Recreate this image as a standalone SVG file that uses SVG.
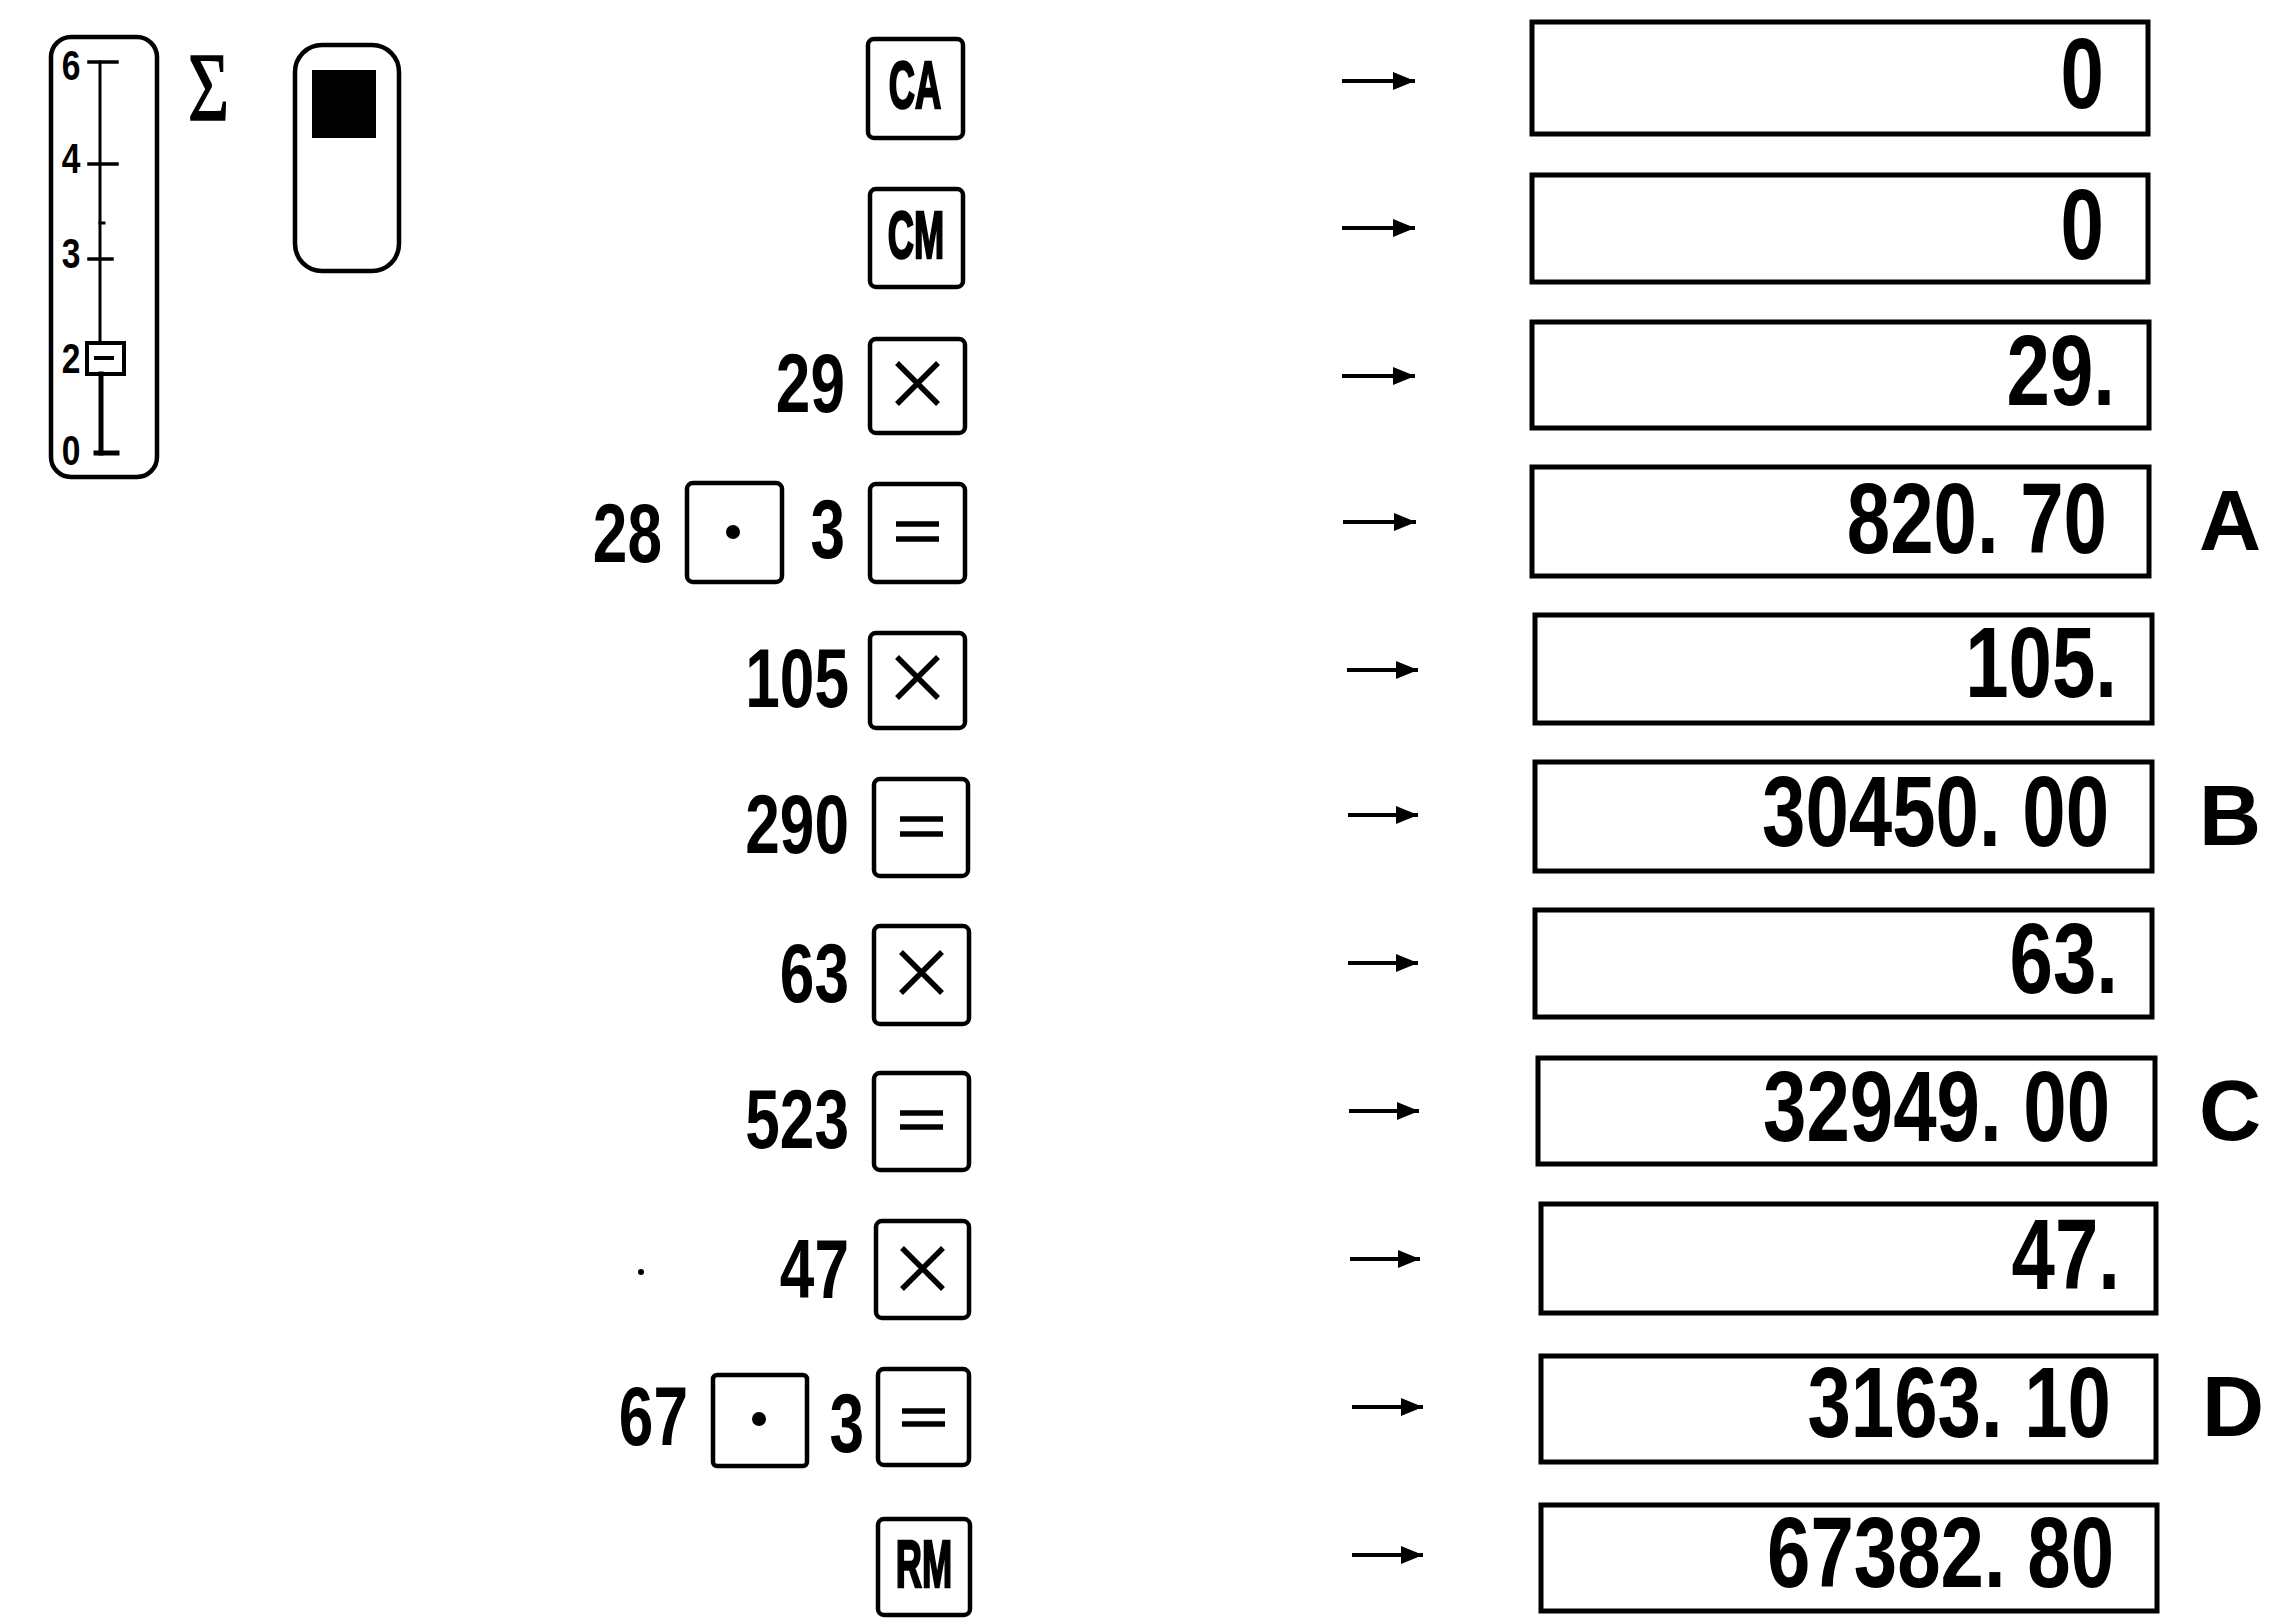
<svg xmlns="http://www.w3.org/2000/svg" width="2275" height="1618" viewBox="0 0 2275 1618">
<style>
.ln{fill:none;stroke:#000;stroke-linecap:square}
.key{fill:#fff;stroke:#000;stroke-width:4.5}
.sym{stroke:#000;stroke-width:5.5;fill:none}
.disp{fill:#fff;stroke:#000;stroke-width:5}
.num{font-family:"Liberation Sans",Arial,sans-serif;font-weight:bold;font-size:84px;fill:#000;text-anchor:end}
.dig{font-family:"Liberation Sans",Arial,sans-serif;font-weight:bold;font-size:100px;fill:#000;text-anchor:end}
.lbl{font-family:"Liberation Sans",Arial,sans-serif;font-weight:bold;font-size:66px;fill:#000;stroke:#000;stroke-width:2.5;text-anchor:middle}
.let{font-family:"Liberation Sans",Arial,sans-serif;font-weight:bold;font-size:86px;fill:#000;text-anchor:middle}
.sc{font-family:"Liberation Sans",Arial,sans-serif;font-weight:bold;font-size:42px;fill:#000;text-anchor:middle}
.arr{stroke:#000;stroke-width:4;fill:none}
</style>
<defs>
<marker id="ah" markerUnits="userSpaceOnUse" markerWidth="24" markerHeight="22" refX="22" refY="11" orient="auto">
<path d="M0,2 L22,11 L0,20 Z" fill="#000"/>
</marker>
</defs>

<!-- slider -->
<g id="slider">
<rect x="51" y="37" width="106" height="440" rx="20" class="ln" stroke-width="4.5"/>
<text class="sc" transform="translate(71,80) scale(0.8,1)">6</text>
<text class="sc" transform="translate(71,173) scale(0.8,1)">4</text>
<text class="sc" transform="translate(71,268) scale(0.8,1)">3</text>
<text class="sc" transform="translate(71,373) scale(0.8,1)">2</text>
<text class="sc" transform="translate(71,465) scale(0.8,1)">0</text>
<line x1="100" y1="62" x2="100" y2="342" class="ln" stroke-width="3"/>
<line x1="101" y1="374" x2="101" y2="453" class="ln" stroke-width="5"/>
<line x1="89" y1="62" x2="117" y2="62" class="ln" stroke-width="3.5"/>
<line x1="89" y1="164" x2="117" y2="164" class="ln" stroke-width="3.5"/>
<line x1="89" y1="259" x2="112" y2="259" class="ln" stroke-width="3.5"/>
<line x1="100" y1="223" x2="104" y2="223" class="ln" stroke-width="3"/>
<line x1="96" y1="453" x2="117" y2="453" class="ln" stroke-width="5"/>
<rect x="87" y="343" width="37" height="31" class="ln" stroke-width="4"/>
<line x1="96" y1="358" x2="112" y2="358" class="ln" stroke-width="4"/>
</g>

<g id="sigma">
<text transform="translate(188,120) scale(0.72,1)" font-family="'Liberation Serif','Times New Roman',serif" font-size="98" fill="#000" stroke="#000" stroke-width="1.5">Σ</text>
</g>

<g id="switch">
<rect x="295" y="45" width="104" height="226" rx="27" class="ln" stroke-width="4.5"/>
<rect x="312" y="70" width="64" height="68" fill="#000"/>
</g>

<!-- key rows -->
<g id="row1">
<g id="key-ca" transform="translate(868,39)"><rect class="key" width="95" height="99" rx="6"/><text class="lbl" transform="translate(47,69) scale(0.55,1)">CA</text></g>
</g>
<g id="row2">
<g id="key-cm" transform="translate(870,189)"><rect class="key" width="93" height="98" rx="6"/><text class="lbl" transform="translate(46,69) scale(0.55,1)">CM</text></g>
</g>
<g id="row3">
<text class="num" transform="translate(845,412) scale(0.74,1)">29</text>
<g id="key-x1" transform="translate(870,339)"><rect class="key" width="95" height="94" rx="6"/><path class="sym" d="M27,24 L68,65 M68,24 L27,65"/></g>
</g>
<g id="row4">
<text class="num" transform="translate(662,562) scale(0.74,1)">28</text>
<g id="key-dot1" transform="translate(687,483)"><rect class="key" width="95" height="99" rx="6"/><circle cx="46" cy="49" r="7" fill="#000"/></g>
<text class="num" transform="translate(845,558) scale(0.74,1)">3</text>
<g id="key-eq1" transform="translate(870,484)"><rect class="key" width="95" height="98" rx="6"/><path class="sym" d="M26,40 H69 M26,55 H69"/></g>
</g>
<g id="row5">
<text class="num" transform="translate(849,707) scale(0.74,1)">105</text>
<g id="key-x2" transform="translate(870,633)"><rect class="key" width="95" height="95" rx="6"/><path class="sym" d="M27,24 L68,65 M68,24 L27,65"/></g>
</g>
<g id="row6">
<text class="num" transform="translate(849,853) scale(0.74,1)">290</text>
<g id="key-eq2" transform="translate(874,779)"><rect class="key" width="94" height="97" rx="6"/><path class="sym" d="M26,40 H69 M26,55 H69"/></g>
</g>
<g id="row7">
<text class="num" transform="translate(849,1002) scale(0.74,1)">63</text>
<g id="key-x3" transform="translate(874,926)"><rect class="key" width="95" height="98" rx="6"/><path class="sym" d="M27,26 L68,67 M68,26 L27,67"/></g>
</g>
<g id="row8">
<text class="num" transform="translate(849,1148) scale(0.74,1)">523</text>
<g id="key-eq3" transform="translate(874,1073)"><rect class="key" width="95" height="97" rx="6"/><path class="sym" d="M26,40 H69 M26,54 H69"/></g>
</g>
<g id="row9">
<circle cx="641" cy="1272" r="3" fill="#000"/>
<text class="num" transform="translate(849,1298) scale(0.74,1)">47</text>
<g id="key-x4" transform="translate(876,1221)"><rect class="key" width="93" height="97" rx="6"/><path class="sym" d="M26,27 L67,68 M67,27 L26,68"/></g>
</g>
<g id="row10">
<text class="num" transform="translate(688,1445) scale(0.74,1)">67</text>
<g id="key-dot2" transform="translate(713,1375)"><rect class="key" width="94" height="91" rx="4"/><circle cx="46" cy="44" r="7" fill="#000"/></g>
<text class="num" transform="translate(864,1452) scale(0.74,1)">3</text>
<g id="key-eq4" transform="translate(878,1369)"><rect class="key" width="91" height="96" rx="6"/><path class="sym" d="M24,42 H67 M24,55 H67"/></g>
</g>
<g id="row11">
<g id="key-rm" transform="translate(878,1519)"><rect class="key" width="92" height="96" rx="6"/><text class="lbl" transform="translate(46,68) scale(0.55,1)">RM</text></g>
</g>

<!-- connectors -->
<g id="connectors">
<line class="arr" x1="1342" y1="81" x2="1415" y2="81" marker-end="url(#ah)"/>
<line class="arr" x1="1342" y1="228" x2="1415" y2="228" marker-end="url(#ah)"/>
<line class="arr" x1="1342" y1="376" x2="1415" y2="376" marker-end="url(#ah)"/>
<line class="arr" x1="1343" y1="522" x2="1416" y2="522" marker-end="url(#ah)"/>
<line class="arr" x1="1347" y1="670" x2="1418" y2="670" marker-end="url(#ah)"/>
<line class="arr" x1="1348" y1="815" x2="1418" y2="815" marker-end="url(#ah)"/>
<line class="arr" x1="1348" y1="963" x2="1418" y2="963" marker-end="url(#ah)"/>
<line class="arr" x1="1349" y1="1111" x2="1419" y2="1111" marker-end="url(#ah)"/>
<line class="arr" x1="1350" y1="1259" x2="1420" y2="1259" marker-end="url(#ah)"/>
<line class="arr" x1="1352" y1="1407" x2="1423" y2="1407" marker-end="url(#ah)"/>
<line class="arr" x1="1352" y1="1555" x2="1423" y2="1555" marker-end="url(#ah)"/>
</g>

<!-- displays -->
<g id="disp1"><rect class="disp" x="1532" y="22" width="616" height="112"/><text class="dig" transform="translate(2104,108) scale(0.78,1)">0</text></g>
<g id="disp2"><rect class="disp" x="1532" y="175" width="616" height="107"/><text class="dig" transform="translate(2104,259) scale(0.78,1)">0</text></g>
<g id="disp3"><rect class="disp" x="1532" y="322" width="617" height="106"/><text class="dig" transform="translate(2115,405) scale(0.78,1)">29.</text></g>
<g id="disp4"><rect class="disp" x="1532" y="467" width="617" height="109"/><text class="dig" transform="translate(2107,553) scale(0.78,1)">820. 70</text><text class="let" x="2230" y="550">A</text></g>
<g id="disp5"><rect class="disp" x="1535" y="615" width="617" height="108"/><text class="dig" transform="translate(2117,697) scale(0.78,1)">105.</text></g>
<g id="disp6"><rect class="disp" x="1535" y="762" width="617" height="109"/><text class="dig" transform="translate(2109,846) scale(0.78,1)">30450. 00</text><text class="let" x="2230" y="845">B</text></g>
<g id="disp7"><rect class="disp" x="1535" y="910" width="617" height="107"/><text class="dig" transform="translate(2118,993) scale(0.78,1)">63.</text></g>
<g id="disp8"><rect class="disp" x="1538" y="1058" width="617" height="106"/><text class="dig" transform="translate(2110,1141) scale(0.78,1)">32949. 00</text><text class="let" x="2230" y="1140">C</text></g>
<g id="disp9"><rect class="disp" x="1541" y="1204" width="615" height="109"/><text class="dig" transform="translate(2120,1289) scale(0.78,1)">47.</text></g>
<g id="disp10"><rect class="disp" x="1541" y="1356" width="615" height="106"/><text class="dig" transform="translate(2111,1437) scale(0.78,1)">3163. 10</text><text class="let" x="2233" y="1436">D</text></g>
<g id="disp11"><rect class="disp" x="1541" y="1505" width="616" height="106"/><text class="dig" transform="translate(2114,1587) scale(0.78,1)">67382. 80</text></g>
</svg>
